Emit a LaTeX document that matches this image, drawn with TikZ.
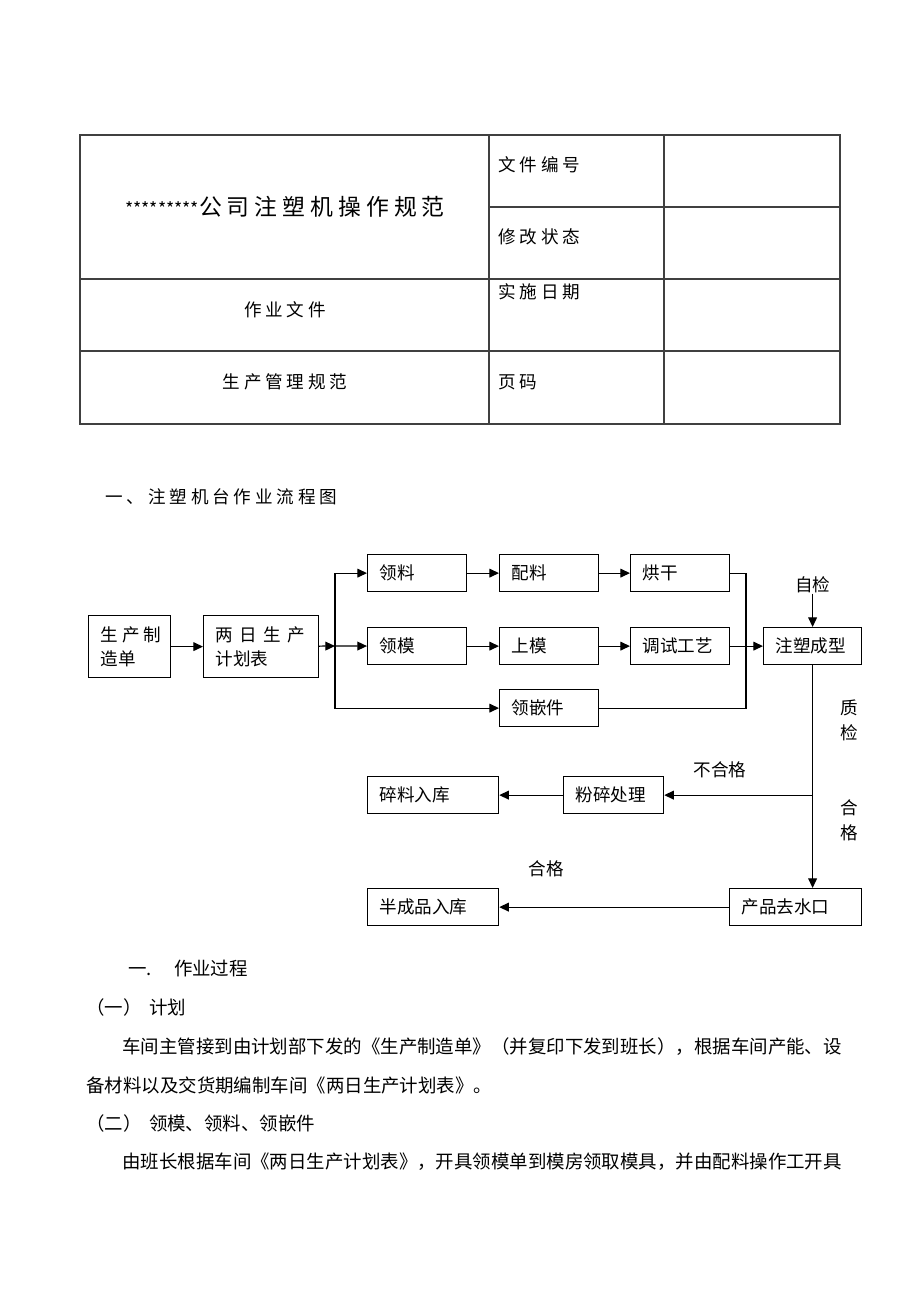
\documentclass[tikz,border=0pt]{standalone}
\usepackage{fontspec}
\newfontfamily\cjkf{Noto Sans CJK SC}
\newfontfamily\cjksp[LetterSpace=22]{Noto Sans CJK SC}
\usepackage{tikz}
\usetikzlibrary{arrows.meta}

\tikzset{
  box/.style={draw, line width=0.7pt, anchor=north west, inner xsep=0.24cm, inner ysep=0pt,
    align=left, minimum height=0.74cm, font=\cjkf\fontsize{10pt}{13.6pt}\selectfont},
  arr/.style={line width=0.7pt, -{Triangle[length=5.5pt,width=5pt]}},
  link/.style={line width=0.7pt},
  lbl/.style={inner sep=0pt, font=\cjkf\fontsize{10pt}{14.2pt}\selectfont},
  body/.style={anchor=west, inner sep=0pt, font=\cjkf\fontsize{10.5pt}{13pt}\selectfont},
  cell/.style={anchor=west, inner sep=0pt, font=\cjksp\fontsize{10pt}{12pt}\selectfont},
  tabline/.style={line width=0.6pt, black!75}
}

\begin{document}
\begin{tikzpicture}[x=0.02cm, y=-0.02cm]
    \useasboundingbox (0,0) rectangle (920,1302);

    % Header table
    \draw[tabline] (80,135) rectangle (840,424);
    \draw[tabline] (489,135) -- (489,424);
    \draw[tabline] (664,135) -- (664,424);
    \draw[tabline] (489,207) -- (840,207);
    \draw[tabline] (80,279) -- (840,279);
    \draw[tabline] (80,351) -- (840,351);

    \node[inner sep=0pt] (title) at (285,207)
        {{\cjkf\fontsize{10pt}{12pt}\selectfont *********}{\cjksp\fontsize{13pt}{15pt}\selectfont 公司注塑机操作规范}};
    \node[cell] (bianhao) at (498,165) {文件编号};
    \node[cell] (zhuangtai) at (498,237) {修改状态};
    \node[cell] (riqi) at (498,292) {实施日期};
    \node[cell] (yema) at (498,382) {页码};
    \node[cell, anchor=center] (zuoye) at (285,310) {作业文件};
    \node[cell, anchor=center] (guifan) at (285,382) {生产管理规范};

    % Heading
    \node[cell] (heading) at (105,497) {一、注塑机台作业流程图};

    % Flow chart boxes
    \node[box, text width=1.16cm, minimum height=1.24cm] (zhizao) at (88,615) {{\cjksp 生产制}\\造单};
    \node[box, text width=1.82cm, minimum height=1.24cm] (jihua) at (203,615)
        {两\kern0.37em 日\kern0.37em 生\kern0.37em 产\\计划表};
    \node[box, text width=1.5cm] (lingliao) at (367,554) {领料};
    \node[box, text width=1.5cm] (lingmo) at (367,627) {领模};
    \node[box, text width=1.5cm] (peiliao) at (499,554) {配料};
    \node[box, text width=1.5cm] (shangmo) at (499,627) {上模};
    \node[box, text width=1.5cm] (lingqian) at (499,689) {领嵌件};
    \node[box, text width=1.5cm] (honggan) at (630,554) {烘干};
    \node[box, text width=1.5cm] (tiaoshi) at (630,627) {调试工艺};
    \node[box, text width=1.48cm] (zhusu) at (763,627) {注塑成型};
    \node[box, text width=1.52cm] (fensui) at (563,776) {粉碎处理};
    \node[box, text width=2.14cm] (suiliao) at (367,776) {碎料入库};
    \node[box, text width=2.16cm] (qushui) at (729,888) {产品去水口};
    \node[box, text width=2.14cm] (banchengpin) at (367,888) {半成品入库};

    % Split and merge points
    \coordinate (split) at (335,646);
    \coordinate (merge) at (746,0 |- lingqian.east);
    \coordinate (fail) at (zhusu.south |- fensui.east);

    % Connectors
    \draw[arr] (zhizao) -- (jihua);
    \draw[arr] (jihua) -- (split);
    \draw[arr] (split) |- (lingliao);
    \draw[arr] (split) -- (lingmo);
    \draw[arr] (split) |- (lingqian);
    \draw[arr] (lingliao) -- (peiliao);
    \draw[arr] (peiliao) -- (honggan);
    \draw[arr] (lingmo) -- (shangmo);
    \draw[arr] (shangmo) -- (tiaoshi);
    \draw[arr] (tiaoshi) -- (zhusu);
    \draw[link] (honggan) -| (merge) -- (lingqian);
    \draw[arr] (zhusu) -- (zhusu.south |- qushui.north);
    \draw[arr] (fail) -- (fensui);
    \draw[arr] (fensui) -- (suiliao);
    \draw[arr] (qushui) -- (banchengpin);

    % Check labels
    \node[lbl] (zijian) at (zhusu.north |- 0,585) {自检};
    \draw[arr] (zijian) -- (zhusu);
    \node[lbl, align=center] (zhijian) at (849,720) {质\\检};
    \node[lbl, align=center] (hege) at (849,820) {合\\格};
    \node[lbl] (buhege) at (720,770) {不合格};
    \node[lbl] (hege2) at (546,869) {合格};

    % Body text
    \node[body] (s1) at (128,968) {一.\hspace{1.2em}作业过程};
    \node[body] (s11) at (86,1007) {（一）\hspace{0.4em}计划};
    \node[body] (p1) at (122,1047) {车间主管接到由计划部下发的《生产制造单》（并复印下发到班长），根据车间产能、设};
    \node[body] (p2) at (86,1085) {备材料以及交货期编制车间《两日生产计划表》。};
    \node[body] (s12) at (86,1123) {（二）\hspace{0.4em}领模、领料、领嵌件};
    \node[body] (p3) at (122,1162) {由班长根据车间《两日生产计划表》，开具领模单到模房领取模具，并由配料操作工开具};
\end{tikzpicture}
\end{document}
